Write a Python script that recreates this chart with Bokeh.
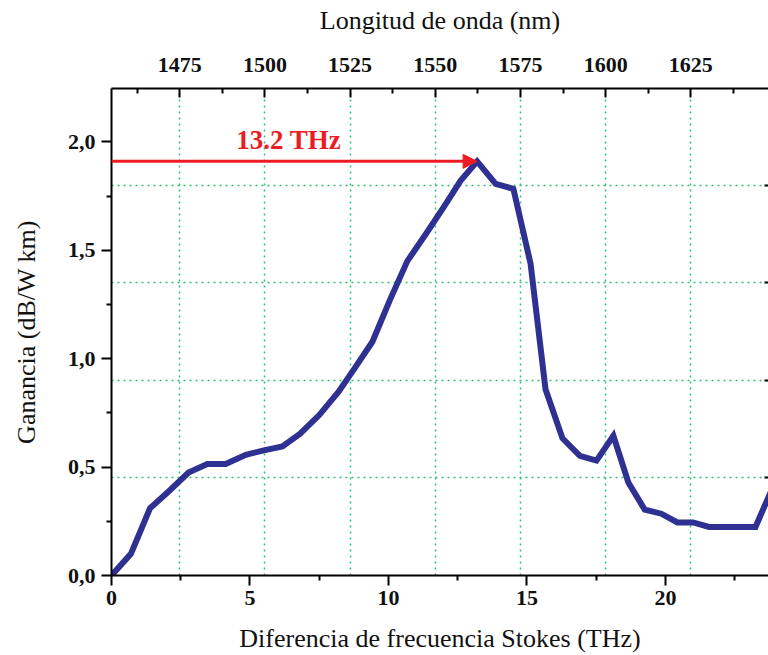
from bokeh.plotting import figure
from bokeh.models import (Range1d, LinearAxis, FixedTicker, Grid, Arrow, NormalHead,
                          Label, ColumnDataSource, CustomJSTickFormatter)
from bokeh.embed import file_html
from bokeh.resources import INLINE

# Raman gain spectrum vs Stokes frequency shift
shift_thz = [0, 0.70, 1.39, 2.08, 2.78, 3.46, 4.12, 4.85, 5.50, 6.17, 6.80, 7.50,
             8.20, 8.80, 9.42, 10.05, 10.68, 11.35, 12.00, 12.60, 13.20, 13.87,
             14.51, 15.13, 15.67, 16.28, 16.91, 17.51, 18.12, 18.66, 19.25, 19.85,
             20.43, 21.00, 21.57, 22.20, 22.70, 23.25, 23.85]
gain = [0.0, 0.10, 0.31, 0.39, 0.475, 0.514, 0.514, 0.557, 0.577, 0.595, 0.653, 0.74,
        0.848, 0.96, 1.078, 1.27, 1.45, 1.575, 1.70, 1.82, 1.91, 1.806,
        1.783, 1.438, 0.859, 0.633, 0.552, 0.53, 0.644, 0.429, 0.304, 0.285,
        0.245, 0.245, 0.224, 0.224, 0.224, 0.224, 0.40]

freq_ticks = [0, 5, 10, 15, 20]
freq_minor = [2.5, 7.5, 12.5, 17.5, 22.5]
gain_ticks = [0.0, 0.5, 1.0, 1.5, 2.0]
gain_minor = [0.25, 0.75, 1.25, 1.75, 2.25]
gain_grid = [0.45, 0.9, 1.35, 1.8]
wl_ticks = [1475, 1500, 1525, 1550, 1575, 1600, 1625]
wl_minor = [1462.5, 1487.5, 1512.5, 1537.5, 1562.5, 1587.5, 1612.5, 1637.5]

peak_shift = 13.2
peak_gain = 1.91

FONT = "Liberation Serif"
BLUE = "#2e3192"
RED = "#ed1c24"
GRID = "#2fbf74"

p = figure(width=768, height=655, output_backend="svg", toolbar_location=None,
           x_range=Range1d(0, 23.72), y_range=Range1d(0, 2.246),
           x_axis_type=None, y_axis_type=None,
           min_border_left=111, min_border_right=0, min_border_top=88,
           min_border_bottom=79)
p.outline_line_color = None
p.background_fill_color = "white"
p.border_fill_color = "white"

# wavelength scale on top
p.extra_x_ranges = {"wl": Range1d(1454.96, 1647.8)}


def style_axis(ax):
    ax.axis_line_width = 2
    ax.axis_line_color = "black"
    ax.major_tick_line_width = 2
    ax.minor_tick_line_width = 2
    ax.major_tick_line_color = "black"
    ax.minor_tick_line_color = "black"
    ax.major_label_text_font = FONT
    ax.major_label_text_font_style = "bold"
    ax.major_label_text_font_size = "22px"
    ax.major_label_text_color = "#111111"
    ax.axis_label_text_font = FONT
    ax.axis_label_text_font_style = "normal"
    ax.axis_label_text_font_size = "26px"
    ax.axis_label_text_color = "#111111"


bottom = LinearAxis(ticker=FixedTicker(ticks=freq_ticks, minor_ticks=freq_minor),
                    axis_label="Diferencia de frecuencia Stokes (THz)")
style_axis(bottom)
bottom.major_tick_out = 10
bottom.major_tick_in = 0
bottom.minor_tick_out = 5
bottom.minor_tick_in = 0
bottom.major_label_standoff = 5
bottom.axis_label_standoff = 16
p.add_layout(bottom, "below")

left = LinearAxis(ticker=FixedTicker(ticks=gain_ticks, minor_ticks=gain_minor),
                  axis_label="Ganancia (dB/W km)",
                  formatter=CustomJSTickFormatter(code="return tick.toFixed(1).replace('.', ',');"))
style_axis(left)
left.major_tick_out = 10
left.major_tick_in = 0
left.minor_tick_out = 5
left.minor_tick_in = 0
left.major_label_standoff = 6
left.axis_label_standoff = 24
p.add_layout(left, "left")

top = LinearAxis(x_range_name="wl",
                 ticker=FixedTicker(ticks=wl_ticks, minor_ticks=wl_minor),
                 axis_label="Longitud de onda (nm)")
style_axis(top)
top.major_tick_out = 0
top.major_tick_in = 9
top.minor_tick_out = 0
top.minor_tick_in = 5
top.major_label_standoff = 17
top.axis_label_standoff = 20
p.add_layout(top, "above")

# unlabeled right-hand scale: short inward ticks only
right = LinearAxis(ticker=FixedTicker(ticks=gain_grid, minor_ticks=[]),
                   formatter=CustomJSTickFormatter(code="return '';"))
right.axis_line_color = None
right.major_tick_out = 0
right.major_tick_in = 4
right.major_tick_line_width = 2
right.major_tick_line_color = "black"
right.major_label_standoff = 0
p.add_layout(right, "right")

# dotted grid: verticals follow the wavelength ticks
p.add_layout(Grid(dimension=0, x_range_name="wl", ticker=FixedTicker(ticks=wl_ticks),
                  grid_line_color=GRID, grid_line_dash="2 4", grid_line_width=1.5))
p.add_layout(Grid(dimension=1, ticker=FixedTicker(ticks=gain_grid),
                  grid_line_color=GRID, grid_line_dash="2 4", grid_line_width=1.5))

src = ColumnDataSource(dict(x=shift_thz, y=gain))
p.line("x", "y", source=src, line_width=6, line_color=BLUE, line_join="miter")

# peak marker arrow and label
p.add_layout(Arrow(end=NormalHead(size=14, fill_color=RED, line_color=RED, line_width=1),
                   x_start=0, y_start=peak_gain, x_end=peak_shift, y_end=peak_gain,
                   line_color=RED, line_width=3))
p.add_layout(Label(x=peak_shift * 0.485, y=peak_gain + 0.03, text=f"{peak_shift} THz",
                   text_align="center", text_baseline="bottom",
                   text_font=FONT, text_font_style="bold", text_font_size="27px",
                   text_color=RED))

open("out.html", "w").write(file_html(p, INLINE))
